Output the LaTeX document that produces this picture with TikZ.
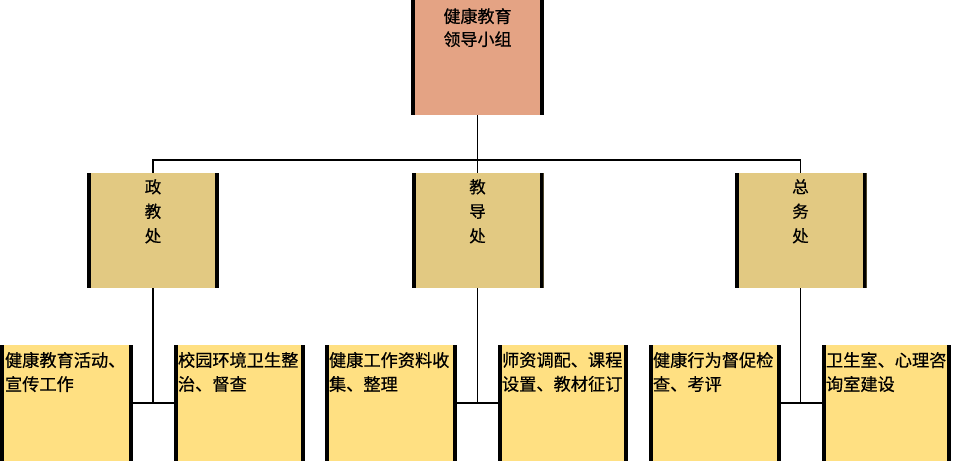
\documentclass[tikz,border=0pt]{standalone}
\usepackage{fontspec}
\newfontfamily\cjk[FakeBold=0.6]{Noto Sans CJK SC}
\definecolor{leadfill}{HTML}{E4A384}
\definecolor{deptfill}{HTML}{E2C982}
\definecolor{taskfill}{HTML}{FFE082}
\begin{document}
\begin{tikzpicture}[x=1pt,y=-1pt,
  sidebox/.style={inner sep=0pt, minimum height=#1,
    path picture={
      \fill[black] (path picture bounding box.north west) rectangle ([xshift=4pt]path picture bounding box.south west);
      \fill[black] ([xshift=-4pt]path picture bounding box.north east) rectangle (path picture bounding box.south east);}},
  leadbox/.style={sidebox=115pt, fill=leadfill, minimum width=133pt},
  deptbox/.style={sidebox=115pt, fill=deptfill, minimum width=132pt},
  taskbox/.style={sidebox=116pt, fill=taskfill, minimum width=#1},
  toptext/.style={inner sep=0pt, anchor=north, align=center, font=\cjk\fontsize{17pt}{23pt}\selectfont},
  depttext/.style={inner sep=0pt, anchor=north, align=center, font=\cjk\fontsize{16.5pt}{24.5pt}\selectfont},
  tasktext/.style={inner sep=0pt, anchor=north west, align=left, text width=128pt, font=\cjk\fontsize{17.2pt}{24pt}\selectfont},
  conn/.style={draw=black, line width=1.2pt}
]
\useasboundingbox (0,0) rectangle (954,461);

% leadership box
\node[leadbox] (lead) at (477.5,57.5) {};
\node[toptext] (leadt) at (477.5,8) {健康教育\\领导小组};

% departments
\node[deptbox] (zj) at (153,230.5) {};
\node[deptbox] (jd) at (477.5,230.5) {};
\node[deptbox] (zw) at (800.5,230.5) {};
\node[depttext] (zjt) at (153,179) {政\\教\\处};
\node[depttext] (jdt) at (477.5,179) {教\\导\\处};
\node[depttext] (zwt) at (800.5,179) {总\\务\\处};

% tasks
\node[taskbox=133pt] (b1) at (66.5,403) {};
\node[taskbox=131pt] (b2) at (239.5,403) {};
\node[taskbox=132pt] (b3) at (391,403) {};
\node[taskbox=130pt] (b4) at (563,403) {};
\node[taskbox=132pt] (b5) at (715,403) {};
\node[taskbox=129pt] (b6) at (886.5,403) {};

\node[tasktext] (b1t) at ([xshift=5pt,yshift=-7pt]b1.north west) {健康教育活动、\\宣传工作};
\node[tasktext] (b2t) at ([xshift=4pt,yshift=-7pt]b2.north west) {校园环境卫生整\\治、督查};
\node[tasktext] (b3t) at ([xshift=4pt,yshift=-7pt]b3.north west) {健康工作资料收\\集、整理};
\node[tasktext] (b4t) at ([xshift=4pt,yshift=-7pt]b4.north west) {师资调配、课程\\设置、教材征订};
\node[tasktext] (b5t) at ([xshift=4pt,yshift=-7pt]b5.north west) {健康行为督促检\\查、考评};
\node[tasktext] (b6t) at ([xshift=4pt,yshift=-7pt]b6.north west) {卫生室、心理咨\\询室建设};

% connectors
\coordinate (bus) at (477.5,160);
\draw[conn] (lead.south) -- (jd.north);
\draw[conn] (zj.north) -- (zj.north |- bus) -- (zw.north |- bus) -- (zw.north);

\draw[conn] (zj.south) |- (b1.east);
\draw[conn] (b1.east) -- (b2.west);
\draw[conn] (jd.south) |- (b3.east);
\draw[conn] (b3.east) -- (b4.west);
\draw[conn] (zw.south) |- (b5.east);
\draw[conn] (b5.east) -- (b6.west);
\end{tikzpicture}
\end{document}
